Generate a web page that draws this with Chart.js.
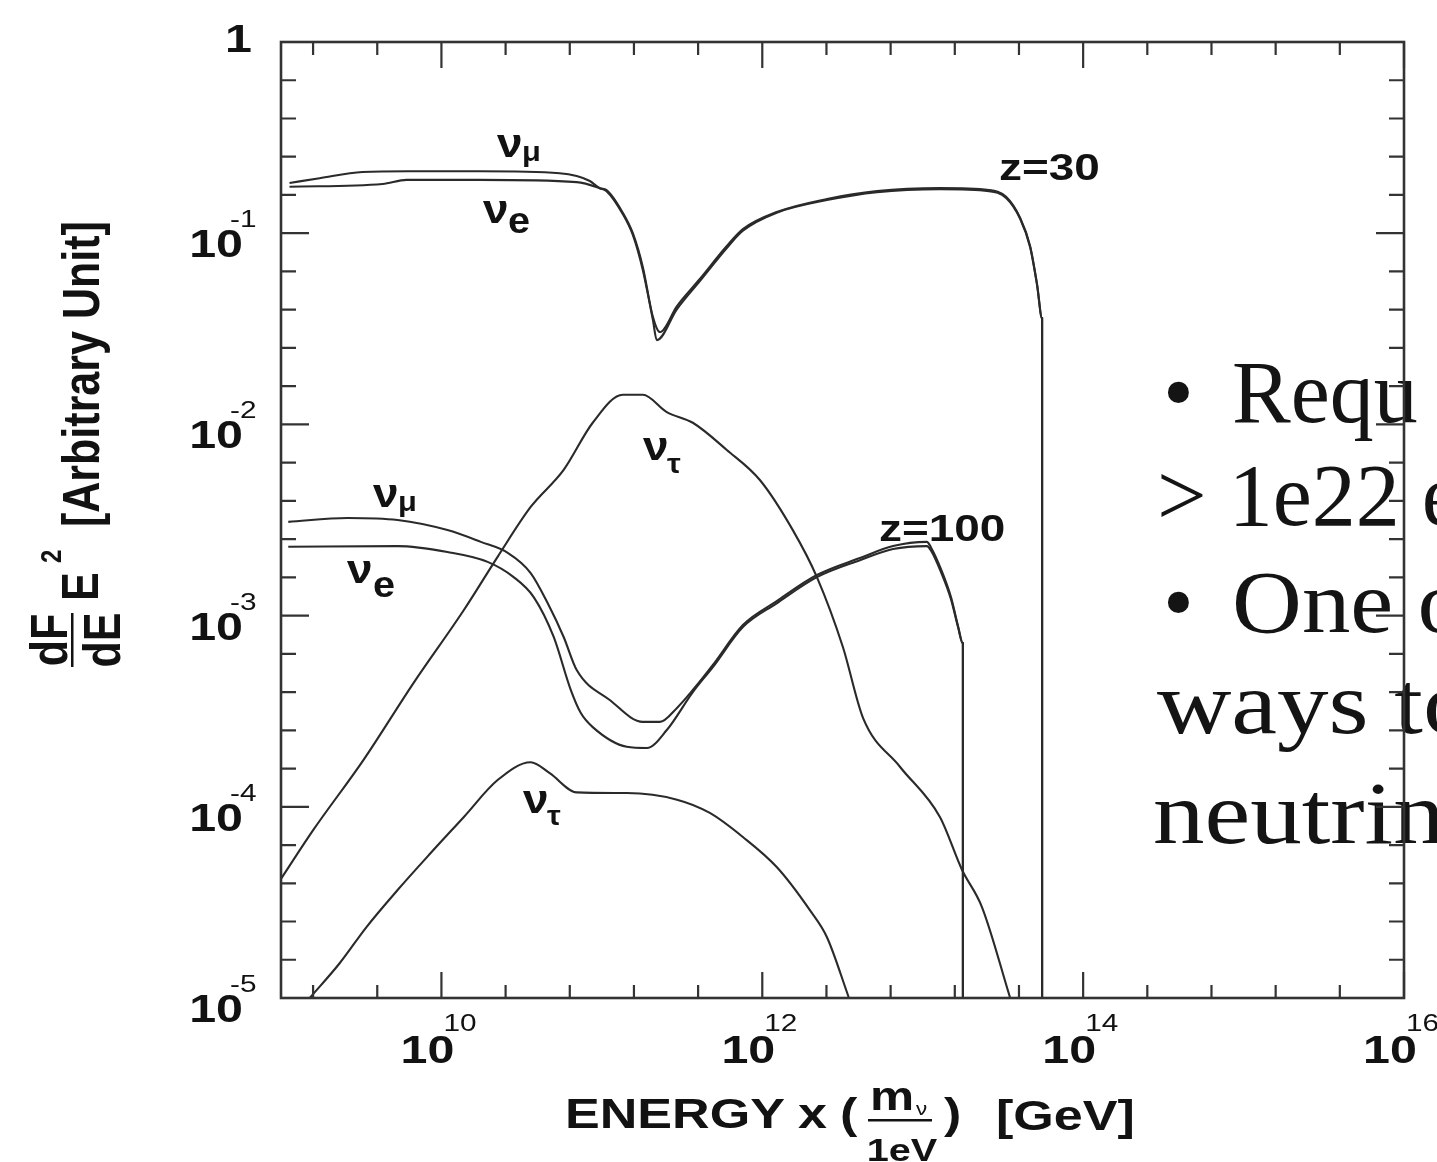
<!DOCTYPE html>
<html>
<head>
<meta charset="utf-8">
<title>Neutrino flux from Z-burst decays</title>
<script src="https://cdn.jsdelivr.net/npm/chart.js@4.4.1/dist/chart.umd.min.js"></script>
<style>
  html, body { margin: 0; padding: 0; background: #fff; }
  canvas { display: block; }
</style>
</head>
<body>
<canvas id="fluxChart" width="1437" height="1162"></canvas>
<script>
// Energy x (m_nu / 1 eV) in GeV, and dF/dE * E^2 in arbitrary units

// z = 30
const z30NuMuE = [1.13e9, 1.74e9, 3.22e9, 6.24e9, 1.73e10, 5.46e10, 6.97e10, 8.41e10, 9.70e10, 1.07e11,
  1.35e11, 1.56e11, 1.80e11, 2.08e11, 2.30e11, 2.94e11, 4.08e11, 6.01e11, 7.57e11, 1.23e12,
  2.53e12, 5.19e12, 1.28e13, 2.59e13, 3.31e13, 4.05e13, 4.67e13, 5.16e13, 5.55e13, 5.55e13];
const z30NuMuF = [0.183, 0.194, 0.209, 0.211, 0.211, 0.206, 0.199, 0.1875, 0.172, 0.168,
  0.128, 0.100, 0.0666, 0.0365, 0.0304, 0.0416, 0.0576, 0.0857, 0.105, 0.129,
  0.151, 0.166, 0.172, 0.168, 0.155, 0.120, 0.0857, 0.0542, 0.0360, 1e-5];

const z30NuEE = [1.13e9, 4.30e9, 6.07e9, 1.73e10, 6.97e10, 9.70e10, 1.07e11, 1.35e11, 1.56e11, 1.80e11,
  2.08e11, 2.20e11, 2.94e11, 4.08e11, 6.01e11, 7.57e11, 1.23e12, 2.53e12, 5.19e12, 1.28e13,
  2.59e13, 3.31e13, 4.05e13, 4.67e13, 5.16e13, 5.55e13, 5.55e13];
const z30NuEF = [0.175, 0.181, 0.190, 0.190, 0.185, 0.172, 0.166, 0.126, 0.0979, 0.0642,
  0.0352, 0.0276, 0.0401, 0.0562, 0.0837, 0.103, 0.128, 0.149, 0.164, 0.170,
  0.166, 0.153, 0.119, 0.0847, 0.0536, 0.0356, 1e-5];

// z = 100
const z100NuMuE = [1.11e9, 2.60e9, 5.33e9, 1.09e10, 1.76e10, 2.59e10, 3.60e10, 4.60e10, 5.78e10, 6.97e10,
  1.12e11, 1.80e11, 2.30e11, 2.94e11, 3.69e11, 4.92e11, 7.57e11, 1.23e12, 2.19e12, 4.06e12,
  6.53e12, 1.06e13, 1.13e13, 1.30e13, 1.50e13, 1.66e13, 1.78e13, 1.78e13];
const z100NuMuF = [3.09e-3, 3.24e-3, 3.16e-3, 2.80e-3, 2.43e-3, 2.13e-3, 1.67e-3, 1.16e-3, 7.73e-4, 5.19e-4,
  3.62e-4, 2.78e-4, 2.78e-4, 3.29e-4, 4.08e-4, 5.52e-4, 8.93e-4, 1.19e-3, 1.63e-3, 2.00e-3,
  2.31e-3, 2.43e-3, 2.26e-3, 1.75e-3, 1.25e-3, 8.82e-4, 7.19e-4, 1e-5];

const z100NuEE = [1.11e9, 5.33e9, 1.09e10, 1.94e10, 2.82e10, 3.76e10, 5.01e10, 6.39e10, 7.38e10, 8.77e10,
  1.43e11, 1.91e11, 2.54e11, 3.69e11, 4.92e11, 7.57e11, 1.23e12, 2.19e12, 4.06e12, 6.53e12,
  1.06e13, 1.13e13, 1.30e13, 1.50e13, 1.66e13, 1.78e13, 1.78e13];
const z100NuEF = [2.29e-3, 2.31e-3, 2.15e-3, 1.91e-3, 1.59e-3, 1.25e-3, 7.73e-4, 4.1e-4, 3.10e-4, 2.61e-4,
  2.06e-4, 2.03e-4, 2.52e-4, 3.98e-4, 5.38e-4, 8.71e-4, 1.16e-3, 1.59e-3, 1.95e-3, 2.23e-3,
  2.31e-3, 2.18e-3, 1.69e-3, 1.22e-3, 8.71e-4, 7.10e-4, 1e-5];

// nu_tau curves
const tauHighE = [1.0e9, 1.59e9, 3.27e9, 6.71e9, 1.38e10, 2.24e10, 3.60e10, 5.78e10, 8.77e10, 1.35e11,
  1.80e11, 2.54e11, 3.69e11, 6.01e11, 9.66e11, 1.55e12, 2.19e12, 3.18e12, 4.25e12, 7.21e12,
  1.28e13, 1.76e13, 2.34e13, 3.51e13];
const tauHighF = [4.2e-5, 7.57e-5, 1.76e-4, 4.45e-4, 1.07e-3, 2.03e-3, 3.70e-3, 5.78e-3, 1.02e-2, 1.43e-2,
  1.43e-2, 1.16e-2, 1.02e-2, 7.35e-3, 5.12e-3, 2.80e-3, 1.59e-3, 6.85e-4, 2.91e-4, 1.62e-4,
  8.85e-5, 4.67e-5, 2.99e-5, 1.0e-5];

const tauLowE = [1.51e9, 2.32e9, 3.41e9, 5.33e9, 8.57e9, 1.38e10, 2.24e10, 3.60e10, 4.73e10, 6.97e10,
  1.43e11, 2.94e11, 4.71e11, 7.57e11, 1.23e12, 1.98e12, 2.53e12, 3.47e12];
const tauLowF = [1.0e-5, 1.52e-5, 2.35e-5, 3.67e-5, 5.73e-5, 8.85e-5, 1.38e-4, 1.71e-4, 1.50e-4, 1.19e-4,
  1.18e-4, 1.09e-4, 9.29e-5, 6.95e-5, 4.84e-5, 2.88e-5, 2.08e-5, 1.0e-5];

// axis labels
const xLabelValues = [1e10, 1e12, 1e14, 1e16];
const xLabelExps = ['10', '12', '14', '16'];
const yLabelValues = [1, 1e-1, 1e-2, 1e-3, 1e-4, 1e-5];
const yLabelExps = [null, '-1', '-2', '-3', '-4', '-5'];

const INK = '#121212';
const LINE = '#2a2a2a';
const SANS = '"Liberation Sans", Arial, sans-serif';
const SERIF = '"Liberation Serif", "Times New Roman", serif';
const STRETCH = 1.24;   // the figure's lettering is wide

function pairs(xs, ys) {
  return xs.map((x, i) => ({ x: x, y: ys[i] }));
}

function curve(xs, ys) {
  return {
    data: pairs(xs, ys),
    showLine: true,
    borderColor: LINE,
    borderWidth: 2.1,
    pointRadius: 0,
    cubicInterpolationMode: 'monotone',
    fill: false
  };
}

function text(ctx, str, x, y, font, align, sx) {
  ctx.save();
  ctx.font = font;
  ctx.textAlign = align || 'left';
  ctx.textBaseline = 'alphabetic';
  ctx.translate(x, y);
  ctx.scale(sx || 1, 1);
  ctx.fillText(str, 0, 0);
  ctx.restore();
}

// rotated text reading bottom to top; xBase is the baseline column
function vtext(ctx, str, xBase, y, font, align, sy) {
  ctx.save();
  ctx.font = font;
  ctx.textAlign = align || 'left';
  ctx.textBaseline = 'alphabetic';
  ctx.translate(xBase, y);
  ctx.rotate(-Math.PI / 2);
  ctx.scale(1, sy || 1);
  ctx.fillText(str, 0, 0);
  ctx.restore();
}

const framePlugin = {
  id: 'frame',
  beforeDraw(chart) {
    const ctx = chart.ctx;
    ctx.save();
    ctx.fillStyle = '#fff';
    ctx.fillRect(0, 0, chart.width, chart.height);
    ctx.fillStyle = '#141414';

    // slide text running behind the right edge of the plot
    const f = '88px ' + SERIF;
    text(ctx, '\u2022', 1163, 422, f);
    text(ctx, 'Requ', 1232, 422, f, 'left', 1.0);
    text(ctx, '> 1e22 e', 1157, 525, f, 'left', 1.0);
    text(ctx, '\u2022', 1163, 632, f);
    text(ctx, 'One o', 1232, 632, f, 'left', 1.1);
    text(ctx, 'ways to', 1157, 733, f, 'left', 1.17);
    text(ctx, 'neutrin', 1153, 843, f, 'left', 1.17);
    ctx.restore();
  },
  afterDatasetsDraw(chart) {
    const ctx = chart.ctx;
    const a = chart.chartArea;
    const xs = chart.scales.x;
    const ys = chart.scales.y;

    ctx.save();
    ctx.strokeStyle = '#333';
    ctx.lineWidth = 2.6;
    ctx.strokeRect(a.left, a.top, a.right - a.left, a.bottom - a.top);

    // x ticks every 0.4 decade, long ones on even decades
    ctx.lineWidth = 2.2;
    ctx.beginPath();
    for (let j = 0; j <= 17; j++) {
      const e = 9.2 + 0.4 * j;
      const r = Math.round(e);
      const major = Math.abs(e - r) < 1e-6 && r % 2 === 0;
      const len = major ? 26 : 13;
      const px = xs.getPixelForValue(Math.pow(10, e));
      ctx.moveTo(px, a.bottom); ctx.lineTo(px, a.bottom - len);
      ctx.moveTo(px, a.top); ctx.lineTo(px, a.top + len);
    }
    // y ticks every 0.2 decade
    for (let j = 1; j < 25; j++) {
      const e = -5 + 0.2 * j;
      const major = Math.abs(e - Math.round(e)) < 1e-6;
      const len = major ? 28 : 15;
      const py = ys.getPixelForValue(Math.pow(10, e));
      ctx.moveTo(a.left, py); ctx.lineTo(a.left + len, py);
      ctx.moveTo(a.right, py); ctx.lineTo(a.right - len, py);
    }
    ctx.stroke();

    ctx.fillStyle = INK;
    const big = 'bold 39px ' + SANS;
    const sup = '24px ' + SANS;

    xLabelValues.forEach((v, i) => {
      const px = xs.getPixelForValue(v);
      text(ctx, '10', px - 14, 1063, big, 'center', STRETCH);
      text(ctx, xLabelExps[i], px + 2, 1031, sup, 'left', STRETCH);
    });

    yLabelValues.forEach((v, i) => {
      const py = ys.getPixelForValue(v);
      if (yLabelExps[i] === null) {
        text(ctx, '1', 252, 52, big, 'right', STRETCH);
        return;
      }
      text(ctx, '10', 243, py + 24, big, 'right', STRETCH);
      text(ctx, yLabelExps[i], 230, py - 6, sup, 'left', STRETCH);
    });

    // x axis title
    const title = 'bold 42px ' + SANS;
    text(ctx, 'ENERGY', 565, 1128, title, 'left', STRETCH);
    text(ctx, 'x', 798, 1128, title, 'left', STRETCH);
    text(ctx, '(', 840, 1128, title, 'left', STRETCH);
    text(ctx, 'm', 870, 1110, 'bold 40px ' + SANS, 'left', STRETCH);
    text(ctx, '\u03bd', 916, 1115, '18px ' + SANS, 'left', STRETCH);
    text(ctx, '1eV', 902, 1161, 'bold 32px ' + SANS, 'center', STRETCH);
    text(ctx, ')', 944, 1128, title, 'left', STRETCH);
    text(ctx, '[GeV]', 996, 1130, title, 'left', STRETCH);
    ctx.fillRect(868, 1119, 64, 2.5);

    // y axis title
    const yt = 'bold 43px ' + SANS;
    vtext(ctx, 'dF', 67, 640, yt, 'center', 1.2);
    vtext(ctx, 'dE', 120, 640, yt, 'center', 1.2);
    ctx.fillRect(71, 613, 2.5, 54);
    vtext(ctx, 'E', 98, 601, yt, 'left', 1.2);
    vtext(ctx, '2', 61, 563, 'bold 24px ' + SANS, 'left', 1.2);
    vtext(ctx, '[Arbitrary Unit]', 99, 527, yt, 'left', 1.2);

    // curve labels
    const nu = 'bold 40px ' + SANS;
    const sub = 'bold 28px ' + SANS;
    const subE = 'bold 36px ' + SANS;
    text(ctx, '\u03bd', 497, 157, nu, 'left', 1.15);
    text(ctx, '\u03bc', 522, 161, sub, 'left', 1.1);
    text(ctx, '\u03bd', 483, 223, nu, 'left', 1.15);
    text(ctx, 'e', 508, 233, subE, 'left', 1.1);
    text(ctx, 'z=30', 999, 180, 'bold 37px ' + SANS, 'left', STRETCH);

    text(ctx, '\u03bd', 373, 507, nu, 'left', 1.15);
    text(ctx, '\u03bc', 398, 511, sub, 'left', 1.1);
    text(ctx, '\u03bd', 347, 583, nu, 'left', 1.15);
    text(ctx, 'e', 373, 597, subE, 'left', 1.1);
    text(ctx, 'z=100', 879, 541, 'bold 37px ' + SANS, 'left', STRETCH);

    text(ctx, '\u03bd', 643, 460, nu, 'left', 1.15);
    text(ctx, '\u03c4', 667, 473, sub, 'left', 1.1);
    text(ctx, '\u03bd', 523, 813, nu, 'left', 1.15);
    text(ctx, '\u03c4', 547, 825, sub, 'left', 1.1);
    ctx.restore();
  }
};

new Chart(document.getElementById('fluxChart'), {
  type: 'scatter',
  data: {
    datasets: [
      curve(z30NuMuE, z30NuMuF),
      curve(z30NuEE, z30NuEF),
      curve(z100NuMuE, z100NuMuF),
      curve(z100NuEE, z100NuEF),
      curve(tauHighE, tauHighF),
      curve(tauLowE, tauLowF)
    ]
  },
  options: {
    responsive: false,
    animation: false,
    layout: { padding: { left: 281, right: 33, top: 42, bottom: 164 } },
    plugins: {
      legend: { display: false },
      tooltip: { enabled: false }
    },
    scales: {
      x: { type: 'logarithmic', min: 1e9, max: 1e16, display: false },
      y: { type: 'logarithmic', min: 1e-5, max: 1, display: false }
    }
  },
  plugins: [framePlugin]
});
</script>
</body>
</html>
